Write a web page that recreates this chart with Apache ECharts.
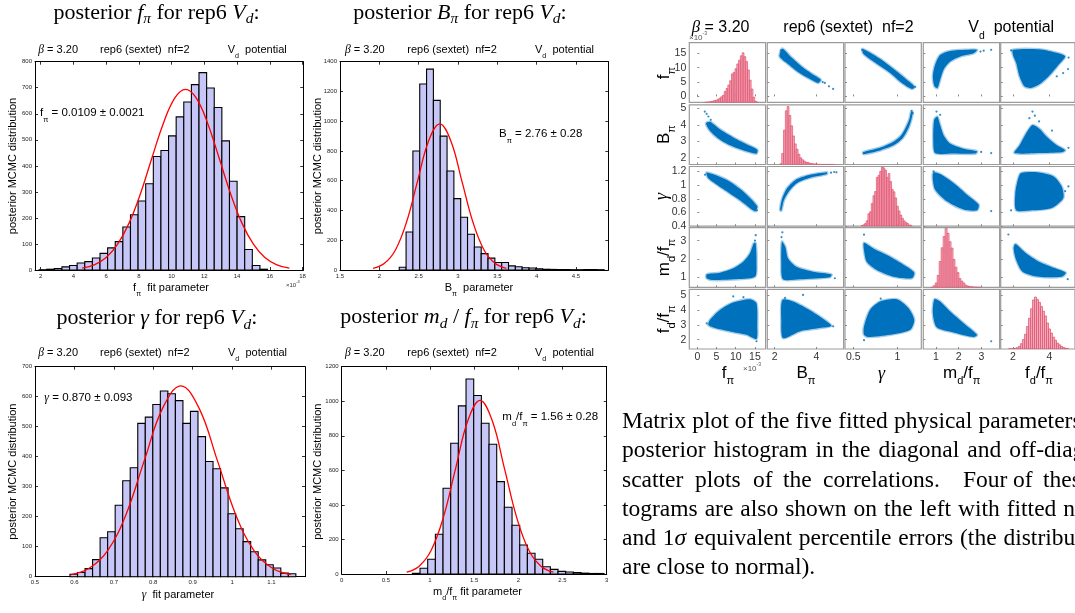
<!DOCTYPE html>
<html>
<head>
<meta charset="utf-8">
<script src="https://cdn.jsdelivr.net/npm/echarts@6/dist/echarts.min.js"></script>
<style>
  html, body { margin: 0; background: #fff; }
  #main { width: 1075px; height: 613px; }
</style>
</head>
<body>
<div id="main"></div>
<script>
// ---- posterior histograms (first bin edge, bin width, counts) ----
const fpiBinStart = 1.9, fpiBinWidth = 0.4655;
const fpiCounts = [1, 3, 6, 12, 17, 27, 32, 46, 64, 85, 109, 165, 212, 265, 331, 436, 459, 515, 588, 645, 712, 758, 699, 624, 496, 341, 205, 79, 17, 3];
const fpiCurveX = [4.53, 5.3, 6.0, 6.7, 7.4, 8.1, 8.8, 9.5, 10.2, 10.85, 11.5, 12.2, 12.9, 13.6, 14.3, 15.0, 15.7, 16.4, 17.2];
const fpiCurveY = [7, 21, 48, 99, 180, 294, 431, 564, 661, 694, 661, 564, 431, 294, 180, 99, 48, 21, 7];
const fpiTickLabels = [2, 4, 6, 8, 10, 12, 14, 16, 18];

const bpiBinStart = 2.253, bpiBinWidth = 0.0868;
const bpiCounts = [18, 255, 800, 1250, 1350, 1140, 900, 665, 480, 355, 240, 155, 110, 80, 50, 50, 28, 22, 15, 13, 8, 5, 4, 3, 3, 2, 2, 3, 3, 2];
const bpiCurveX = [1.92, 2.061, 2.203, 2.344, 2.485, 2.626, 2.768, 2.909, 3.05, 3.191, 3.332, 3.474, 3.615];
const bpiCurveY = [11, 43, 133, 319, 596, 867, 982, 867, 596, 319, 133, 43, 11];
const bpiTickLabels = [1.5, 2, 2.5, 3, 3.5, 4, 4.5];

const gammaBinStart = 0.5888, gammaBinWidth = 0.0191;
const gammaCounts = [8, 14, 27, 57, 130, 150, 238, 320, 363, 511, 532, 574, 619, 610, 587, 511, 551, 467, 384, 360, 296, 210, 160, 117, 83, 56, 40, 29, 12, 10];
const gammaCurveX = [0.591, 0.6375, 0.684, 0.7305, 0.777, 0.8235, 0.870, 0.9165, 0.963, 1.0095, 1.056, 1.1025, 1.149];
const gammaCurveY = [7, 28, 86, 206, 386, 561, 636, 561, 386, 206, 86, 28, 7];
const gammaTickLabels = [0.5, 0.6, 0.7, 0.8, 0.9, 1, 1.1];

const mdBinStart = 0.8, mdBinWidth = 0.0868;
const mdCounts = [4, 33, 85, 230, 496, 757, 973, 1129, 1033, 873, 751, 535, 386, 282, 168, 120, 85, 42, 27, 15, 12, 8, 5, 3, 3];
const mdCurveX = [0.735, 0.8735, 1.012, 1.15, 1.289, 1.4275, 1.566, 1.7045, 1.843, 1.9815, 2.12, 2.2585, 2.397];
const mdCurveY = [11, 44, 136, 326, 610, 887, 1005, 887, 610, 326, 136, 44, 11];
const mdTickLabels = [0, 0.5, 1, 1.5, 2, 2.5, 3];

const fdBinStart = 1.75, fdBinWidth = 0.11;
const fdCounts = [2, 3, 6, 12, 22, 44, 90, 160, 250, 380, 520, 680, 830, 880, 840, 790, 720, 640, 560, 440, 340, 270, 200, 150, 100, 70, 44, 25, 14, 8];

// ---- matrix plot: axis ranges and tick labels per parameter (fpi, Bpi, gamma, md/fpi, fd/fpi) ----
const matrixXRange = [[-2.08, 17.77], [1.65, 5.30], [0.406, 1.269], [0.45, 3.80], [1.33, 5.40]];
const matrixYRange = [[-2.08, 18.67], [1.59, 5.21], [0.40, 1.27], [0.45, 3.71], [1.38, 5.38]];
const matrixXTicks = [[0, 5, 10, 15], [2, 4], [0.5, 1], [1, 2, 3], [2, 4]];
const matrixYTicks = [[0, 5, 10, 15], [2, 3, 4, 5], [0.4, 0.6, 0.8, 1, 1.2], [1, 2, 3], [2, 3, 4, 5]];
const diagCountMax = [913, 1390, 625, 1140, 1011];

// scatter clouds: outline of the dense region [x, y] and stray points
const cloudBF = [[2.37, 16.6], [2.80, 13.6], [3.28, 10.5], [3.76, 8.0], [4.21, 5.8], [4.08, 4.7], [3.60, 6.4], [3.12, 8.5], [2.64, 11.3], [2.24, 13.9]];
const strayBF = [[4.4, 4.7], [4.6, 3.5], [4.8, 2.6], [4.3, 5.0], [2.3, 16.0]];
const cloudGF = [[0.606, 16.5], [0.803, 13.07], [0.992, 8.70], [1.106, 5.83], [1.189, 3.53], [1.163, 2.61], [1.049, 4.68], [0.917, 8.13], [0.765, 11.34], [0.614, 14.8]];
const strayGF = [[1.18, 3.0], [1.2, 3.3], [0.6, 16.2]];
const cloudMF = [[0.94, 3.5], [0.87, 7.0], [0.97, 11.0], [1.19, 14.4], [1.63, 15.8], [2.37, 16.2], [2.81, 16.2], [2.66, 15.0], [2.07, 13.9], [1.63, 12.1], [1.34, 9.3], [1.19, 5.8], [1.07, 2.9]];
const strayMF = [[3.43, 16.2], [2.96, 15.6], [3.1, 15.9]];
const cloudDF = [[2.0, 16.2], [3.43, 16.4], [4.50, 15.0], [4.86, 13.9], [4.5, 11.0], [3.96, 7.0], [3.43, 4.1], [2.98, 2.9], [2.63, 3.5], [2.36, 7.0], [2.18, 11.6], [2.0, 14.5]];
const strayDF = [[5.02, 9.5], [4.75, 8.1], [4.4, 7.0], [5.05, 13.5], [1.9, 16.0]];

const cloudFB = [[3.3, 4.18], [5.9, 3.72], [9.35, 3.23], [12.8, 2.82], [15.6, 2.49], [15.4, 2.25], [11.95, 2.45], [8.5, 2.75], [5.45, 3.17], [3.3, 3.63], [2.26, 4.09]];
const strayFB = [[1.95, 4.8], [2.9, 4.5], [3.5, 4.3], [2.44, 4.66]];
const cloudGB = [[0.61, 2.34], [0.80, 2.61], [0.95, 2.96], [1.04, 3.35], [1.095, 3.85], [1.135, 4.35], [1.155, 4.80], [1.172, 4.75], [1.153, 4.25], [1.117, 3.72], [1.06, 3.2], [0.965, 2.78], [0.81, 2.46], [0.615, 2.22]];
const strayGB = [[1.16, 4.85], [1.17, 4.7]];
const cloudMB = [[0.925, 4.29], [1.07, 4.49], [1.19, 3.98], [1.34, 3.37], [1.63, 2.86], [2.22, 2.55], [2.81, 2.39], [2.74, 2.25], [1.78, 2.25], [0.97, 2.28], [0.89, 3.06]];
const strayMB = [[1.03, 4.8], [1.19, 4.6], [3.43, 2.28], [2.99, 2.35]];
const cloudDB = [[2.09, 2.28], [2.36, 2.75], [2.72, 3.47], [3.07, 3.98], [3.43, 3.78], [3.87, 3.26], [4.41, 2.75], [4.86, 2.45], [4.67, 2.33], [3.43, 2.28]];
const strayDB = [[3.07, 4.8], [2.9, 4.4], [3.43, 4.2], [4.14, 3.65], [5.04, 2.6], [3.2, 4.55]];

const cloudFG = [[2.44, 1.183], [7.6, 1.077], [11.95, 0.907], [15.6, 0.69], [15.0, 0.617], [11.1, 0.777], [6.75, 0.942], [2.86, 1.10]];
const strayFG = [[2.0, 1.15], [15.5, 0.63]];
const cloudBG = [[2.26, 0.64], [2.36, 0.80], [2.6, 0.955], [3.0, 1.075], [3.65, 1.145], [4.5, 1.185], [4.5, 1.160], [3.7, 1.105], [3.08, 1.03], [2.69, 0.91], [2.44, 0.775], [2.32, 0.625]];
const strayBG = [[4.7, 1.18], [4.85, 1.19], [4.96, 1.185]];
const cloudMG = [[0.895, 1.183], [1.19, 1.159], [1.78, 1.029], [2.37, 0.86], [2.88, 0.715], [2.81, 0.632], [2.22, 0.642], [1.49, 0.762], [0.97, 0.932], [0.87, 1.077]];
const strayMG = [[3.43, 0.62], [0.9, 1.2]];
const cloudDG = [[2.45, 1.174], [3.43, 1.183], [4.23, 1.125], [4.67, 0.98], [4.76, 0.811], [4.14, 0.667], [3.07, 0.632], [2.18, 0.632], [2.13, 0.884], [2.27, 1.077]];
const strayDG = [[5.04, 0.98], [1.90, 0.632], [4.86, 0.91]];

const cloudFM = [[2.44, 1.16], [5.9, 1.25], [9.35, 1.49], [11.95, 1.85], [13.7, 2.31], [14.7, 2.86], [15.2, 2.86], [15.4, 1.77], [15.0, 1.03], [9.35, 0.89], [4.16, 0.85], [2.44, 0.95]];
const strayFM = [[15.2, 3.3], [15.0, 3.0]];
const cloudBM = [[2.35, 2.95], [2.51, 2.67], [2.64, 2.04], [3.04, 1.58], [3.84, 1.31], [4.72, 1.16], [4.64, 1.0], [3.2, 0.89], [2.40, 0.89], [2.32, 1.77]];
const strayBM = [[2.37, 3.46], [4.88, 0.95], [2.33, 3.2]];
const cloudGM = [[0.621, 2.89], [0.727, 2.58], [0.917, 2.13], [1.106, 1.58], [1.19, 1.25], [1.163, 0.95], [0.955, 1.03], [0.765, 1.40], [0.652, 1.85], [0.621, 2.48]];
const strayGM = [[0.621, 3.33]];
const cloudDM = [[2.14, 2.82], [2.72, 2.31], [3.43, 1.85], [4.32, 1.49], [4.89, 1.25], [4.67, 1.03], [3.43, 1.03], [2.53, 1.31], [2.18, 1.95], [2.04, 2.58]];
const strayDM = [[1.75, 3.34], [5.0, 0.9]];

const cloudFD = [[3.3, 3.33], [5.9, 4.0], [9.35, 4.49], [13.7, 4.71], [15.4, 4.44], [15.6, 2.89], [15.4, 2.05], [12.8, 2.33], [8.5, 2.55], [4.6, 2.78], [2.86, 3.0]];
const strayFD = [[9.35, 4.9], [2.44, 3.1], [15.4, 1.9], [12, 4.85]];
const cloudBD = [[2.37, 4.67], [2.88, 4.56], [3.52, 4.11], [4.16, 3.56], [4.72, 2.93], [4.16, 2.78], [3.2, 2.56], [2.40, 2.11], [2.32, 3.33]];
const strayBD = [[3.36, 5.0], [4.8, 2.9], [2.5, 4.8]];
const cloudGD = [[0.621, 2.89], [0.689, 4.0], [0.803, 4.56], [0.992, 4.71], [1.125, 4.11], [1.189, 3.33], [1.144, 2.67], [0.917, 2.33], [0.67, 2.18], [0.621, 2.33]];
const strayGD = [[0.621, 1.97], [0.81, 4.75]];
const cloudMD = [[0.94, 4.71], [1.19, 4.56], [1.63, 3.89], [2.22, 3.11], [2.81, 2.33], [2.66, 2.18], [1.78, 2.49], [1.04, 2.84], [0.87, 3.78]];
const strayMD = [[3.43, 1.9]];

// row r, column c -> [cloud, stray points]
const cells = {
  '0,1': [cloudBF, strayBF], '0,2': [cloudGF, strayGF], '0,3': [cloudMF, strayMF], '0,4': [cloudDF, strayDF],
  '1,0': [cloudFB, strayFB], '1,2': [cloudGB, strayGB], '1,3': [cloudMB, strayMB], '1,4': [cloudDB, strayDB],
  '2,0': [cloudFG, strayFG], '2,1': [cloudBG, strayBG], '2,3': [cloudMG, strayMG], '2,4': [cloudDG, strayDG],
  '3,0': [cloudFM, strayFM], '3,1': [cloudBM, strayBM], '3,2': [cloudGM, strayGM], '3,4': [cloudDM, strayDM],
  '4,0': [cloudFD, strayFD], '4,1': [cloudBD, strayBD], '4,2': [cloudGD, strayGD], '4,3': [cloudMD, strayMD]
};
const diagHist = [
  [fpiBinStart, fpiBinWidth, fpiCounts], [bpiBinStart, bpiBinWidth, bpiCounts],
  [gammaBinStart, gammaBinWidth, gammaCounts], [mdBinStart, mdBinWidth, mdCounts],
  [fdBinStart, fdBinWidth, fdCounts]
];

const SANS = 'Liberation Sans', SERIF = 'Liberation Serif';
const grids = [], xAxes = [], yAxes = [], series = [], texts = [];
const plain = v => String(v);

function bins(start, w, counts) {
  return counts.map((c, k) => [start + k * w, start + (k + 1) * w, c]);
}

function barItem(fill, stroke, lw) {
  return function (params, api) {
    const a = api.coord([api.value(0), api.value(2)]);
    const b = api.coord([api.value(1), 0]);
    return {
      type: 'rect',
      shape: { x: a[0], y: a[1], width: b[0] - a[0], height: b[1] - a[1] },
      style: { fill: fill, stroke: stroke, lineWidth: lw }
    };
  };
}

function cloudItem(points) {
  return function (params, api) {
    if (params.dataIndex !== 0) return null;
    return {
      type: 'polygon',
      shape: { points: points.map(p => api.coord(p)), smooth: 0.25 },
      style: { fill: '#0072bd', stroke: 'rgba(0,114,189,0.35)', lineWidth: 2.6 }
    };
  };
}

// ---- the four histograms on the left ----
const histPanels = [
  { box: [35, 61.7, 268.3, 208.3], x: [1.65, 18.05], ticks: fpiTickLabels, yMax: 800, yStep: 100,
    bins: bins(fpiBinStart, fpiBinWidth, fpiCounts), cx: fpiCurveX, cy: fpiCurveY },
  { box: [340, 61.7, 268.3, 208.3], x: [1.5, 4.91], ticks: bpiTickLabels, yMax: 1400, yStep: 200,
    bins: bins(bpiBinStart, bpiBinWidth, bpiCounts), cx: bpiCurveX, cy: bpiCurveY },
  { box: [35, 366.7, 270, 210], x: [0.5, 1.185], ticks: gammaTickLabels, yMax: 700, yStep: 100,
    bins: bins(gammaBinStart, gammaBinWidth, gammaCounts), cx: gammaCurveX, cy: gammaCurveY },
  { box: [341.7, 366.7, 265, 207.3], x: [0, 3], ticks: mdTickLabels, yMax: 1200, yStep: 200,
    bins: bins(mdBinStart, mdBinWidth, mdCounts), cx: mdCurveX, cy: mdCurveY }
];

histPanels.forEach(p => {
  grids.push({ left: p.box[0], top: p.box[1], width: p.box[2], height: p.box[3] });
  const gi = grids.length - 1;
  ['bottom', 'top'].forEach(pos => xAxes.push({
    gridIndex: gi, type: 'value', position: pos, min: p.x[0], max: p.x[1],
    axisLine: { show: true, onZero: false, lineStyle: { color: '#000', width: 1 } },
    axisTick: { show: true, inside: true, length: 3, customValues: p.ticks, lineStyle: { color: '#000', width: 0.8 } },
    axisLabel: { show: pos === 'bottom', customValues: p.ticks, formatter: plain, fontSize: 6, color: '#222', margin: 3, fontFamily: SANS },
    splitLine: { show: false }
  }));
  ['left', 'right'].forEach(pos => yAxes.push({
    gridIndex: gi, type: 'value', position: pos, min: 0, max: p.yMax, interval: p.yStep,
    axisLine: { show: true, onZero: false, lineStyle: { color: '#000', width: 1 } },
    axisTick: { show: true, inside: true, length: 3, lineStyle: { color: '#000', width: 0.8 } },
    axisLabel: { show: pos === 'left', formatter: plain, fontSize: 6, color: '#222', margin: 3, fontFamily: SANS },
    splitLine: { show: false }
  }));
  const xi = xAxes.length - 2, yi = yAxes.length - 2;
  series.push({
    type: 'custom', xAxisIndex: xi, yAxisIndex: yi, silent: true, z: 2,
    renderItem: barItem('#c6c6f7', '#000', 1.1), encode: { x: [0, 1], y: 2 }, data: p.bins
  });
  series.push({
    type: 'line', xAxisIndex: xi, yAxisIndex: yi, silent: true, z: 3, smooth: 0.4, symbol: 'none',
    lineStyle: { color: '#ff0000', width: 1.3 }, data: p.cx.map((x, k) => [x, p.cy[k]])
  });
});

// ---- 5x5 matrix plot ----
const colLeft = [689.3, 767.3, 845, 923.3, 1000.7];
const rowTop = [42.7, 104.8, 166.5, 227.7, 289.3];

for (let r = 0; r < 5; r++) {
  for (let c = 0; c < 5; c++) {
    grids.push({ left: colLeft[c], top: rowTop[r], width: 76.3, height: 59.7, show: true,
      borderColor: '#9b9b9b', borderWidth: 1.2, backgroundColor: 'transparent' });
    const gi = grids.length - 1;
    xAxes.push({
      gridIndex: gi, type: 'value', min: matrixXRange[c][0], max: matrixXRange[c][1],
      axisLine: { show: false },
      axisTick: { show: true, inside: true, length: 2, customValues: matrixXTicks[c], lineStyle: { color: '#888' } },
      axisLabel: { show: r === 4, customValues: matrixXTicks[c], formatter: plain, fontSize: 10.5, color: '#333', margin: 3, fontFamily: SANS },
      splitLine: { show: false }
    });
    const xi = xAxes.length - 1;
    yAxes.push({
      gridIndex: gi, type: 'value', min: matrixYRange[r][0], max: matrixYRange[r][1],
      axisLine: { show: false },
      axisTick: { show: true, inside: true, length: 2, customValues: matrixYTicks[r], lineStyle: { color: '#888' } },
      axisLabel: { show: c === 0, customValues: matrixYTicks[r], formatter: plain, fontSize: 10.5, color: '#333', margin: 3, fontFamily: SANS },
      splitLine: { show: false }
    });
    const yi = yAxes.length - 1;
    if (r === c) {
      yAxes.push({ gridIndex: gi, type: 'value', min: 0, max: diagCountMax[r], show: false, splitLine: { show: false } });
      const h = diagHist[r];
      series.push({
        type: 'custom', xAxisIndex: xi, yAxisIndex: yAxes.length - 1, silent: true, clip: true,
        renderItem: barItem('rgba(240,150,172,0.8)', '#e0506a', 0.7), encode: { x: [0, 1], y: 2 },
        data: bins(h[0], h[1], h[2])
      });
    } else {
      const cell = cells[r + ',' + c];
      series.push({
        type: 'custom', xAxisIndex: xi, yAxisIndex: yi, silent: true, clip: true,
        renderItem: cloudItem(cell[0]), encode: { x: 0, y: 1 }, data: cell[0]
      });
      series.push({
        type: 'scatter', xAxisIndex: xi, yAxisIndex: yi, silent: true, symbolSize: 2.2,
        itemStyle: { color: '#0072bd' }, data: cell[1]
      });
    }
  }
}

// ---- text ----
function label(x, y, text, o) {
  o = o || {};
  const size = o.size || 11;
  const fam = o.serif ? SERIF : SANS;
  const subSize = size * (o.subScale || 0.65);
  const drop = size * (o.drop || 1.1);
  const fill = o.color || '#000';
  const align = o.align || 'left';
  texts.push({
    type: 'text', x: x, y: y, rotation: o.rot || 0, silent: true, z: 100,
    style: {
      text: text, fontFamily: fam, fontSize: size, fill: fill,
      align: align, textAlign: align, verticalAlign: 'middle', textVerticalAlign: 'middle',
      rich: {
        sub: { fontFamily: fam, fontSize: subSize, fill: fill, padding: [drop, 0, 0, 0] },
        isub: { fontFamily: fam, fontSize: subSize, fontStyle: 'italic', fill: fill, padding: [drop, 0, 0, 0] },
        sup: { fontFamily: fam, fontSize: subSize, fill: fill, padding: [0, 0, drop, 0] },
        i: { fontFamily: fam, fontSize: size, fontStyle: 'italic', fill: fill },
        g: { fontFamily: SERIF, fontSize: size * 1.05, fontStyle: 'italic', fill: fill }
      }
    }
  });
}

const T = { serif: true, size: 22, align: 'center', drop: 0.58, subScale: 0.7 };
label(156.5, 13, 'posterior {i|f}{isub|π} for rep6 {i|V}{isub|d}:', T);
label(460, 13, 'posterior {i|B}{isub|π} for rep6 {i|V}{isub|d}:', T);
label(157, 318.5, 'posterior {i|γ} for rep6 {i|V}{isub|d}:', T);
label(463.5, 317.5, 'posterior {i|m}{isub|d} / {i|f}{isub|π} for rep6 {i|V}{isub|d}:', T);

[[38.3, 100, 227.7, 50], [345, 407.3, 535, 50], [38.3, 100, 228, 353.3], [345, 407.3, 535, 353.3]].forEach(s => {
  label(s[0], s[3], '{g|β} = 3.20');
  label(s[1], s[3], 'rep6 (sextet)  nf=2');
  label(s[2], s[3], 'V{sub|d}  potential');
});

const yName = { rot: Math.PI / 2, align: 'center' };
label(13.3, 166, 'posterior MCMC distribution', yName);
label(318.3, 166, 'posterior MCMC distribution', yName);
label(13.3, 471.7, 'posterior MCMC distribution', yName);
label(318, 471.7, 'posterior MCMC distribution', yName);

label(171, 287.5, 'f{sub|π}  fit parameter', { align: 'center' });
label(479, 287.5, 'B{sub|π}  parameter', { align: 'center' });
label(178, 595, '{g|γ}  fit parameter', { align: 'center' });
label(477.5, 591.7, 'm{sub|d}/f{sub|π} fit parameter', { align: 'center' });
label(286, 285, '×10{sup|-3}', { size: 6, color: '#333' });

label(40, 113.3, 'f{sub|π} = 0.0109 ± 0.0021', { size: 11.5, drop: 1.2 });
label(499, 134.3, 'B{sub|π} = 2.76 ± 0.28', { size: 11.5, drop: 1.2 });
label(44.3, 398.3, '{g|γ} = 0.870 ± 0.093', { size: 11.5 });
label(502.3, 416.7, 'm{sub|d}/f{sub|π} = 1.56 ± 0.28', { size: 11.5, drop: 1.2 });

// matrix plot text
label(691.7, 27.5, '{g|β} = 3.20', { size: 16 });
label(783.3, 27.5, 'rep6 (sextet)  nf=2', { size: 16 });
label(968.3, 27.5, 'V{sub|d}  potential', { size: 16 });
label(689, 37.5, '×10{sup|-3}', { size: 8, color: '#555' });

const rowName = { size: 17, rot: Math.PI / 2, align: 'center', drop: 0.9 };
label(664, 73, 'f{sub|π}', rowName);
label(664, 134.5, 'B{sub|π}', rowName);
label(662, 196.5, '{g|γ}', rowName);
label(664, 257.5, 'm{sub|d}/f{sub|π}', rowName);
label(664, 319.3, 'f{sub|d}/f{sub|π}', rowName);

const colName = { size: 17, align: 'center', drop: 0.9 };
label(728, 373.5, 'f{sub|π}', colName);
label(806, 373.5, 'B{sub|π}', colName);
label(881.5, 374, '{g|γ}', colName);
label(961.7, 373.5, 'm{sub|d}/f{sub|π}', colName);
label(1039, 373.5, 'f{sub|d}/f{sub|π}', colName);
label(743, 368.5, '×10{sup|-3}', { size: 8, color: '#555' });

// caption, justified word by word
const C = { serif: true, size: 23.5 };
const ruler = document.createElement('canvas').getContext('2d');
ruler.font = '23.5px "Liberation Serif"';
function captionLine(line, y, extra) {
  const words = line.split(' ');
  const space = ruler.measureText(' ').width;
  let x = 622;
  words.forEach(w => {
    label(x, y, w, C);
    x += ruler.measureText(w.replace(/\{i\|(.)\}/, '$1')).width + space + extra;
  });
}
captionLine('Matrix plot of the five fitted physical parameters with', 422, 0.3);
captionLine('posterior histogram in the diagonal and off-diagonal', 451.3, 2.1);
[['scatter', 622], ['plots', 695], ['of', 753], ['the', 783], ['correlations.', 823], ['Four', 963], ['of', 1013], ['these', 1043]]
  .forEach(w => label(w[1], 481.3, w[0], C));
captionLine('tograms are also shown on the left with fitted normal', 510.3, 1.1);
captionLine('and 1{i|σ} equivalent percentile errors (the distributions', 539.3, 1.0);
captionLine('are close to normal).', 568, 0);

const chart = echarts.init(document.getElementById('main'));
chart.setOption({
  animation: false,
  backgroundColor: '#fff',
  grid: grids,
  xAxis: xAxes,
  yAxis: yAxes,
  series: series,
  graphic: { elements: texts }
});
</script>
</body>
</html>
